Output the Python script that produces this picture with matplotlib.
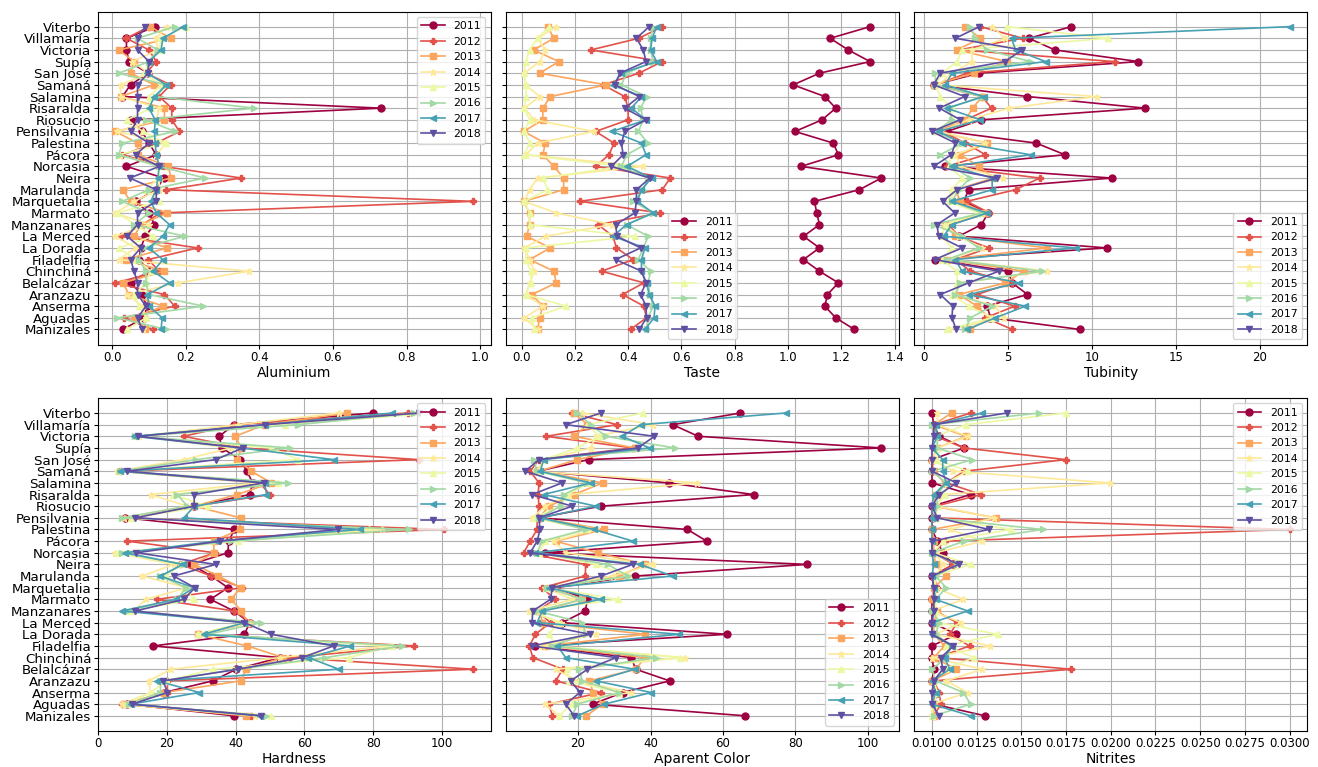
import numpy as np
import matplotlib as mpl
mpl.use('Agg')
import matplotlib.pyplot as plt

# municipalities, listed top to bottom as they appear on the y axis
MUNICIPALITIES = ['Viterbo', 'Villamaría', 'Victoria', 'Supía', 'San José', 'Samaná',
                  'Salamina', 'Risaralda', 'Riosucio', 'Pensilvania', 'Palestina', 'Pácora',
                  'Norcasia', 'Neira', 'Marulanda', 'Marquetalia', 'Marmato', 'Manzanares',
                  'La Merced', 'La Dorada', 'Filadelfia', 'Chinchiná', 'Belalcázar',
                  'Aranzazu', 'Anserma', 'Aguadas', 'Manizales']
YEARS = [2011, 2012, 2013, 2014, 2015, 2016, 2017, 2018]
MARKERS = ['o', 'P', 's', '*', '^', '>', '<', 'v']

# one row per year (2011..2018), one value per municipality
aluminium = [
    [0.117, 0.039, 0.039, 0.046, 0.098, 0.05, 0.028, 0.73, 0.05, 0.081, 0.10, 0.12, 0.039, 0.14, 0.12, 0.064, 0.10, 0.115, 0.09, 0.078, 0.073, 0.10, 0.05, 0.081, 0.094, 0.087, 0.029],
    [0.10, 0.039, 0.10, 0.12, 0.092, 0.159, 0.128, 0.162, 0.162, 0.183, 0.12, 0.028, 0.138, 0.351, 0.147, 0.98, 0.13, 0.083, 0.023, 0.232, 0.098, 0.128, 0.009, 0.142, 0.17, 0.032, 0.11],
    [0.103, 0.16, 0.018, 0.06, 0.05, 0.115, 0.023, 0.142, 0.142, 0.009, 0.069, 0.069, 0.153, 0.16, 0.029, 0.05, 0.149, 0.078, 0.06, 0.149, 0.037, 0.142, 0.029, 0.046, 0.139, 0.06, 0.09],
    [0.149, 0.119, 0.124, 0.055, 0.10, 0.023, 0.023, 0.128, 0.12, 0.014, 0.147, 0.12, 0.128, 0.128, 0.128, 0.06, 0.009, 0.10, 0.009, 0.064, 0.018, 0.372, 0.179, 0.041, 0.083, 0.092, 0.083],
    [0.20, 0.133, 0.128, 0.10, 0.087, 0.133, 0.10, 0.105, 0.041, 0.083, 0.147, 0.018, 0.128, 0.128, 0.092, 0.128, 0.014, 0.064, 0.11, 0.018, 0.064, 0.105, 0.092, 0.06, 0.073, 0.092, 0.041],
    [0.17, 0.069, 0.124, 0.10, 0.018, 0.147, 0.12, 0.385, 0.092, 0.17, 0.028, 0.018, 0.128, 0.252, 0.10, 0.028, 0.10, 0.06, 0.197, 0.083, 0.073, 0.092, 0.092, 0.10, 0.248, 0.014, 0.147],
    [0.193, 0.138, 0.133, 0.10, 0.096, 0.147, 0.115, 0.10, 0.117, 0.115, 0.117, 0.12, 0.128, 0.124, 0.12, 0.105, 0.12, 0.156, 0.138, 0.099, 0.138, 0.112, 0.156, 0.096, 0.10, 0.136, 0.133],
    [0.09, 0.069, 0.069, 0.10, 0.098, 0.069, 0.069, 0.069, 0.069, 0.05, 0.10, 0.064, 0.128, 0.048, 0.12, 0.12, 0.069, 0.069, 0.041, 0.078, 0.05, 0.06, 0.069, 0.069, 0.092, 0.069, 0.081],
]

taste = [
    [1.308, 1.158, 1.226, 1.308, 1.118, 1.019, 1.138, 1.179, 1.128, 1.026, 1.170, 1.189, 1.049, 1.350, 1.268, 1.099, 1.108, 1.118, 1.058, 1.118, 1.058, 1.118, 1.189, 1.148, 1.138, 1.179, 1.249],
    [0.528, 0.44, 0.26, 0.528, 0.44, 0.306, 0.387, 0.40, 0.40, 0.278, 0.347, 0.328, 0.278, 0.558, 0.528, 0.218, 0.52, 0.287, 0.343, 0.356, 0.419, 0.30, 0.459, 0.379, 0.459, 0.469, 0.409],
    [0.098, 0.121, 0.045, 0.14, 0.068, 0.318, 0.108, 0.08, 0.08, 0.008, 0.089, 0.08, 0.121, 0.158, 0.158, 0.008, 0.03, 0.03, 0.019, 0.108, 0.03, 0.121, 0.13, 0.039, 0.079, 0.068, 0.06],
    [0.13, 0.06, 0.089, 0.068, 0.01, 0.016, 0.068, 0.01, 0.048, 0.27, 0.06, 0.016, 0.457, 0.06, 0.03, 0.01, 0.13, 0.34, 0.09, 0.01, 0.03, 0.048, 0.03, 0.016, 0.079, 0.01, 0.06],
    [0.104, 0.06, 0.03, 0.016, 0.01, 0.016, 0.016, 0.01, 0.03, 0.01, 0.03, 0.01, 0.38, 0.079, 0.098, 0.01, 0.03, 0.03, 0.425, 0.016, 0.016, 0.035, 0.035, 0.016, 0.167, 0.039, 0.048],
    [0.494, 0.484, 0.484, 0.494, 0.394, 0.375, 0.469, 0.447, 0.457, 0.438, 0.475, 0.394, 0.375, 0.475, 0.457, 0.419, 0.494, 0.394, 0.475, 0.457, 0.438, 0.484, 0.475, 0.482, 0.494, 0.475, 0.469],
    [0.507, 0.49, 0.484, 0.507, 0.375, 0.343, 0.45, 0.412, 0.467, 0.34, 0.45, 0.467, 0.396, 0.488, 0.45, 0.434, 0.494, 0.394, 0.343, 0.463, 0.45, 0.45, 0.469, 0.479, 0.501, 0.497, 0.463],
    [0.479, 0.431, 0.457, 0.467, 0.369, 0.35, 0.442, 0.387, 0.467, 0.387, 0.375, 0.381, 0.337, 0.482, 0.431, 0.431, 0.425, 0.353, 0.358, 0.447, 0.353, 0.45, 0.467, 0.447, 0.467, 0.469, 0.442],
]

turbidity = [
    [8.79, 6.26, 7.81, 12.78, 3.28, 0.6, 6.18, 13.18, 3.44, 1.39, 6.70, 8.41, 1.29, 11.19, 2.68, 2.39, 3.84, 3.44, 2.09, 10.89, 0.7, 5.03, 5.27, 6.18, 3.78, 3.98, 9.30],
    [3.38, 5.9, 2.09, 11.37, 2.58, 0.7, 3.48, 4.04, 2.49, 1.09, 2.49, 3.68, 1.39, 6.9, 5.47, 2.58, 3.92, 1.49, 2.09, 3.88, 1.89, 2.78, 5.27, 3.18, 5.43, 3.68, 5.27],
    [2.49, 3.38, 1.99, 4.97, 2.98, 0.6, 3.48, 2.92, 2.49, 0.8, 3.78, 2.19, 3.28, 4.17, 1.89, 2.19, 3.68, 1.29, 1.89, 7.36, 1.39, 5.96, 4.87, 2.09, 3.18, 3.88, 2.78],
    [4.08, 4.87, 2.88, 2.88, 1.69, 0.89, 10.3, 5.07, 2.68, 0.99, 3.68, 1.89, 2.19, 4.71, 1.69, 1.69, 3.48, 1.29, 2.09, 3.48, 1.49, 7.36, 2.09, 1.89, 4.27, 4.77, 1.49],
    [4.97, 10.99, 2.29, 1.99, 1.09, 0.7, 0.99, 1.69, 1.69, 0.8, 2.29, 1.69, 1.49, 2.29, 1.69, 1.49, 3.28, 1.29, 1.09, 1.69, 1.09, 1.99, 1.99, 1.69, 2.68, 4.08, 1.39],
    [2.78, 3.08, 3.78, 6.36, 0.7, 0.7, 3.48, 1.49, 1.69, 0.7, 2.29, 0.99, 1.69, 2.78, 2.09, 1.69, 3.48, 0.6, 2.29, 3.28, 1.39, 7.06, 2.19, 1.89, 4.08, 2.78, 2.49],
    [21.77, 5.23, 5.47, 7.26, 1.69, 1.29, 3.58, 1.39, 3.38, 0.89, 2.29, 6.36, 1.69, 4.08, 4.08, 1.69, 3.78, 1.69, 1.19, 9.05, 1.89, 2.29, 5.67, 2.68, 6.06, 4.27, 2.58],
    [3.32, 1.89, 5.86, 4.83, 0.99, 0.6, 2.45, 0.93, 2.19, 0.5, 1.89, 1.65, 0.6, 4.37, 1.99, 1.13, 1.85, 0.8, 0.89, 2.29, 0.66, 4.47, 2.68, 0.99, 1.73, 1.69, 1.93],
]

hardness = [
    [80, 39.5, 35.3, 36, 41.4, 43.3, 45, 44.1, 28, 8, 39.7, 38, 37.8, 27, 33, 37.8, 32.7, 39.5, 44.1, 42.6, 16.1, 52.9, 40.2, 33.4, 19.2, 8.5, 39.7],
    [90, 39.7, 24.9, 42, 93.2, 6.5, 47, 50, 28, 8, 100.5, 8.5, 34, 24, 33, 42, 17.1, 39.7, 44.6, 29, 91.9, 55.8, 109, 20.2, 20.2, 7, 44.6],
    [72.4, 48.5, 39.9, 41.7, 40.5, 44.6, 50.4, 40.5, 28, 41.5, 41.2, 33.7, 33.7, 28, 35, 41.5, 38.7, 41.7, 43.6, 29, 43.4, 53.9, 43.1, 41.5, 19.2, 7.5, 43.1],
    [70, 40.7, 11.9, 38.7, 25, 5.6, 46.5, 15.3, 26, 7.5, 82.6, 40.7, 5.1, 22, 12.9, 26, 13.9, 10.4, 44.6, 29, 84.6, 52.9, 21.2, 14.8, 15.3, 7, 45.6],
    [98, 54.3, 11.4, 50.4, 58.2, 6.5, 52.4, 21.7, 31.9, 9.5, 78.7, 40.7, 5.6, 24, 19.7, 25, 28, 9, 42.6, 29, 85.6, 72.9, 33.4, 20.2, 15.3, 8.5, 50.4],
    [91.9, 58.2, 10.9, 55.8, 28.5, 6.5, 55.3, 23.1, 26, 7, 90.4, 38.7, 7, 25, 18.2, 25.6, 23.1, 8.5, 47.5, 31.9, 88.5, 66, 40.7, 18.2, 18.2, 9, 49],
    [85.6, 48.5, 10.4, 41.7, 68.5, 6.5, 48.5, 49, 28, 25, 76.3, 34.3, 8, 24.6, 18.2, 28, 22.6, 7, 42.6, 30.7, 73.4, 61.2, 70, 17.3, 29.5, 9.5, 47],
    [93.4, 48.5, 11.6, 42.1, 34.3, 8.5, 48.2, 28, 28, 10.9, 69.8, 35.6, 11.2, 34.3, 22, 28.2, 25, 10.9, 42.6, 50.4, 68.5, 59.4, 40.7, 19, 20.2, 10, 47.5],
]

apparent_color = [
    [64.8, 46.1, 53.2, 103.7, 22.9, 9, 45, 68.5, 26.3, 9.2, 50.2, 55.5, 11, 83.3, 35.6, 13.8, 22.6, 22, 15.6, 61.1, 8.2, 34.7, 35.9, 45.3, 32.3, 24, 66.2],
    [18.2, 30.8, 11.2, 35.1, 9.2, 6.8, 9.2, 9, 9.2, 8.7, 8.7, 6.8, 5, 22.1, 22, 10.1, 13.6, 8.7, 12.4, 8.2, 6.6, 7.5, 15.8, 13.8, 26.3, 12, 12.9],
    [18.9, 22.6, 18.9, 35.6, 19.8, 9.2, 26.8, 18.9, 12, 9.2, 27.2, 13.8, 25.4, 38.4, 31.4, 12, 21.2, 9.6, 10.1, 38.6, 11, 38.4, 36, 23.1, 24.2, 26.8, 22.3],
    [21.2, 40.7, 24.9, 23.5, 11, 8.2, 52.9, 17.5, 11, 7.3, 24.9, 13.3, 16.6, 40.7, 29.6, 11, 18.4, 6.4, 15.2, 24.9, 10.1, 49.5, 13.8, 19.8, 34.7, 11, 14.7],
    [37.9, 22.6, 25.8, 19.8, 10.5, 9.2, 23.1, 17, 15.2, 7.8, 22.6, 11, 9.2, 24.9, 34.2, 12, 30.9, 7.3, 14.7, 12, 13.8, 48.1, 17, 17.5, 31.4, 18.4, 14.7],
    [19.8, 23.5, 27.7, 46.7, 7.8, 8.7, 22.6, 16.1, 15.2, 9.2, 22.1, 10.1, 8.7, 28.2, 33.7, 11.5, 21.2, 8.7, 21.2, 22.1, 12.9, 41.6, 20.3, 21.2, 31.4, 19.8, 18.4],
    [77.3, 37.4, 32.1, 39.8, 10.5, 9.6, 23.5, 10.5, 24.9, 9.6, 24.4, 35.1, 8.2, 37, 46.1, 12, 26.3, 10.1, 8.7, 47.9, 14.3, 16.6, 35.6, 24.9, 40.2, 27.2, 19.8],
    [26.3, 16.6, 41.1, 36.5, 9.2, 5.4, 15.6, 7.3, 18.4, 9.2, 9.5, 8.7, 6.8, 35.1, 26.3, 12.9, 12.4, 7.5, 7.3, 23.2, 7.3, 30.5, 22.6, 18, 20.5, 16.6, 18.9],
]

nitrites = [
    [0.0100, 0.0101, 0.0104, 0.0118, 0.0100, 0.0100, 0.0100, 0.01216, 0.0100, 0.0100, 0.0100, 0.0103, 0.0106, 0.0112, 0.0100, 0.0102, 0.0100, 0.0100, 0.0100, 0.01137, 0.0100, 0.0100, 0.0101, 0.0100, 0.0103, 0.0101, 0.01297],
    [0.01216, 0.0101, 0.0102, 0.0118, 0.01748, 0.0118, 0.0108, 0.01276, 0.0102, 0.0101, 0.0300, 0.0107, 0.0101, 0.0112, 0.0101, 0.0103, 0.0100, 0.0102, 0.0114, 0.0110, 0.0121, 0.0103, 0.0178, 0.0101, 0.0104, 0.0105, 0.0101],
    [0.0111, 0.0101, 0.0119, 0.0103, 0.0100, 0.0101, 0.0107, 0.0102, 0.0101, 0.01357, 0.0100, 0.0101, 0.0101, 0.0102, 0.0108, 0.0101, 0.0100, 0.0103, 0.0101, 0.0101, 0.0107, 0.0101, 0.01137, 0.0100, 0.0101, 0.0101, 0.0101],
    [0.0103, 0.0103, 0.0120, 0.0103, 0.0100, 0.0112, 0.01996, 0.0106, 0.0103, 0.01348, 0.0110, 0.01282, 0.0102, 0.0106, 0.0102, 0.0102, 0.01175, 0.0100, 0.01164, 0.0102, 0.01325, 0.0100, 0.01282, 0.0108, 0.0120, 0.0100, 0.0100],
    [0.01748, 0.0119, 0.0102, 0.0103, 0.0103, 0.0120, 0.0108, 0.0107, 0.0103, 0.0102, 0.01442, 0.0106, 0.0101, 0.01216, 0.0101, 0.0102, 0.0102, 0.0102, 0.0104, 0.01367, 0.0108, 0.01235, 0.0107, 0.0101, 0.0103, 0.0101, 0.0100],
    [0.01601, 0.0100, 0.0103, 0.0103, 0.01226, 0.0100, 0.0108, 0.0103, 0.0103, 0.0101, 0.0162, 0.0118, 0.0100, 0.0114, 0.0102, 0.0108, 0.0102, 0.0100, 0.0104, 0.0102, 0.0111, 0.0108, 0.0100, 0.0102, 0.01175, 0.01216, 0.0101],
    [0.01282, 0.0102, 0.0103, 0.0100, 0.0106, 0.0106, 0.0108, 0.0101, 0.0100, 0.0100, 0.0100, 0.0100, 0.0100, 0.0101, 0.0100, 0.0101, 0.0102, 0.0120, 0.0100, 0.0100, 0.0111, 0.0107, 0.0110, 0.0100, 0.0102, 0.0100, 0.01216],
    [0.01419, 0.0101, 0.0101, 0.0100, 0.0100, 0.0100, 0.01137, 0.0104, 0.0100, 0.0103, 0.0132, 0.0100, 0.0100, 0.0115, 0.0100, 0.0101, 0.0101, 0.0101, 0.0100, 0.0100, 0.0112, 0.0105, 0.0106, 0.0101, 0.0100, 0.0100, 0.0104],
]

PANELS = [
    (aluminium, 'Aluminium', 'upper right'),
    (taste, 'Taste', 'lower center'),
    (turbidity, 'Tubinity', 'lower right'),
    (hardness, 'Hardness', 'upper right'),
    (apparent_color, 'Aparent Color', 'lower right'),
    (nitrites, 'Nitrites', 'upper right'),
]

COLOR_MAP = mpl.colormaps['Spectral']
colors = [COLOR_MAP(i) for i in np.linspace(0, 1, len(YEARS))]

fig, axes = plt.subplots(2, 3, figsize=(13.18, 7.67), dpi=100, sharey=True)
fig.subplots_adjust(left=0.074, right=0.992, top=0.985, bottom=0.047,
                    wspace=0.038, hspace=0.16)

n = len(MUNICIPALITIES)
y_pos = np.arange(n)[::-1]

for ax, (table, name, loc) in zip(axes.flatten(), PANELS):
    for i, year in enumerate(YEARS):
        ax.plot(table[i], y_pos, marker=MARKERS[i], color=colors[i], lw=1.2,
                ms=5, label=str(year))
    ax.set_xlabel(name, fontsize=10, labelpad=1.5)
    ax.grid(True)
    ax.tick_params(axis='x', labelsize=8.5, length=3, pad=1.5)
    ax.tick_params(axis='y', labelsize=9.6, length=3, pad=1.5)
    ax.legend(loc=loc, fontsize=7.8, handlelength=2.2)

axes[0, 0].set_yticks(y_pos)
axes[0, 0].set_yticklabels(MUNICIPALITIES)

fig.savefig('out.png', dpi=100)
